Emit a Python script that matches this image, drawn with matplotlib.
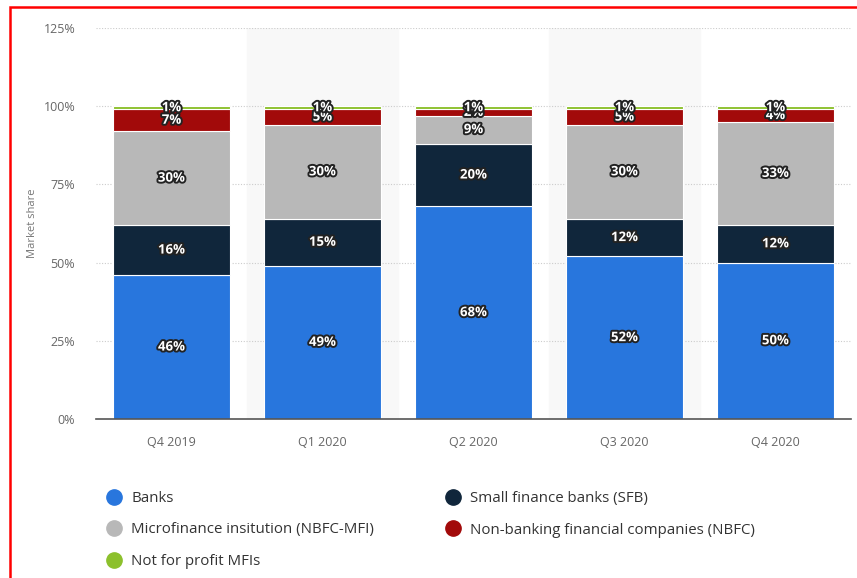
import matplotlib.pyplot as plt
import matplotlib.patheffects as pe
from matplotlib.lines import Line2D
from matplotlib.patches import Rectangle
import numpy as np

plt.rcParams['font.family'] = ['Open Sans', 'DejaVu Sans']

quarters = ['Q4 2019', 'Q1 2020', 'Q2 2020', 'Q3 2020', 'Q4 2020']
banks = [46, 49, 68, 52, 50]
sfb = [16, 15, 20, 12, 12]
nbfc_mfi = [30, 30, 9, 30, 33]
nbfc = [7, 5, 2, 5, 4]
not_for_profit = [1, 1, 1, 1, 1]

series = [
    ('Banks', banks, '#2876dd'),
    ('Small finance banks (SFB)', sfb, '#10263b'),
    ('Microfinance insitution (NBFC-MFI)', nbfc_mfi, '#b8b8b8'),
    ('Non-banking financial companies (NBFC)', nbfc, '#a20a0a'),
    ('Not for profit MFIs', not_for_profit, '#8cc02c'),
]

fig = plt.figure(figsize=[8.57, 5.78], dpi=100)
ax = fig.add_axes([96/857, 1 - 419/578, 755/857, (419 - 28)/578])

x = np.arange(len(quarters))

# alternating column bands
for i in x:
    if i % 2 == 1:
        ax.axvspan(i - 0.5, i + 0.5, color='#f8f8f8', zorder=0)

for yv in [25, 50, 75, 100, 125]:
    ax.axhline(yv, color='#cccccc', lw=0.8, ls=(0, (1, 1.5)), zorder=1)

outline = [pe.withStroke(linewidth=2.8, foreground='#222222')]
bottom = np.zeros(len(quarters))
for name, vals, col in series:
    vals = np.array(vals, dtype=float)
    ax.bar(x, vals, 0.775, bottom=bottom, color=col, edgecolor='white',
           linewidth=0.8, zorder=2)
    for xi, b, v in zip(x, bottom, vals):
        ax.text(xi, b + v / 2, f'{int(v)}%', ha='center', va='center',
                color='white', fontsize=9.5, fontweight='bold',
                path_effects=outline, zorder=4)
    bottom += vals

ax.set_xlim(-0.5, len(quarters) - 0.5)
ax.set_ylim(0, 125)
ax.set_yticks([0, 25, 50, 75, 100, 125])
ax.set_yticklabels([f'{v}%' for v in [0, 25, 50, 75, 100, 125]])
ax.set_xticks(x)
ax.set_xticklabels(quarters)
ax.tick_params(axis='both', length=0, colors='#666666', labelsize=9)
ax.tick_params(axis='x', pad=12)
ax.tick_params(axis='y', pad=15)
for s in ['top', 'right', 'left']:
    ax.spines[s].set_visible(False)
ax.spines['bottom'].set_color('#555555')
ax.spines['bottom'].set_linewidth(1.2)
ax.spines['bottom'].set_zorder(5)
ax.set_ylabel('Market share', color='#777777', fontsize=8, labelpad=4)

def handle(col):
    return Line2D([], [], marker='o', ls='', markersize=11,
                  markerfacecolor=col, markeredgecolor=col)

order1 = [series[0], series[2], series[4]]
order2 = [series[1], series[3]]
leg_kw = dict(frameon=False, fontsize=10.8, labelcolor='#333333',
              handletextpad=0.15, labelspacing=1.1, borderaxespad=0)
leg1 = fig.legend([handle(c) for _, _, c in order1], [n for n, _, _ in order1],
                  loc='upper left', bbox_to_anchor=(93/857, 1 - 485/578), **leg_kw)
leg2 = fig.legend([handle(c) for _, _, c in order2], [n for n, _, _ in order2],
                  loc='upper left', bbox_to_anchor=(432/857, 1 - 485/578), **leg_kw)

# red outer frame
fig.patches.append(Rectangle((10/857, -0.05), 1.2, 1 - 7/578 + 0.05,
                             transform=fig.transFigure, fill=False,
                             edgecolor='red', linewidth=1.8))

fig.savefig('out.png', dpi=100)
